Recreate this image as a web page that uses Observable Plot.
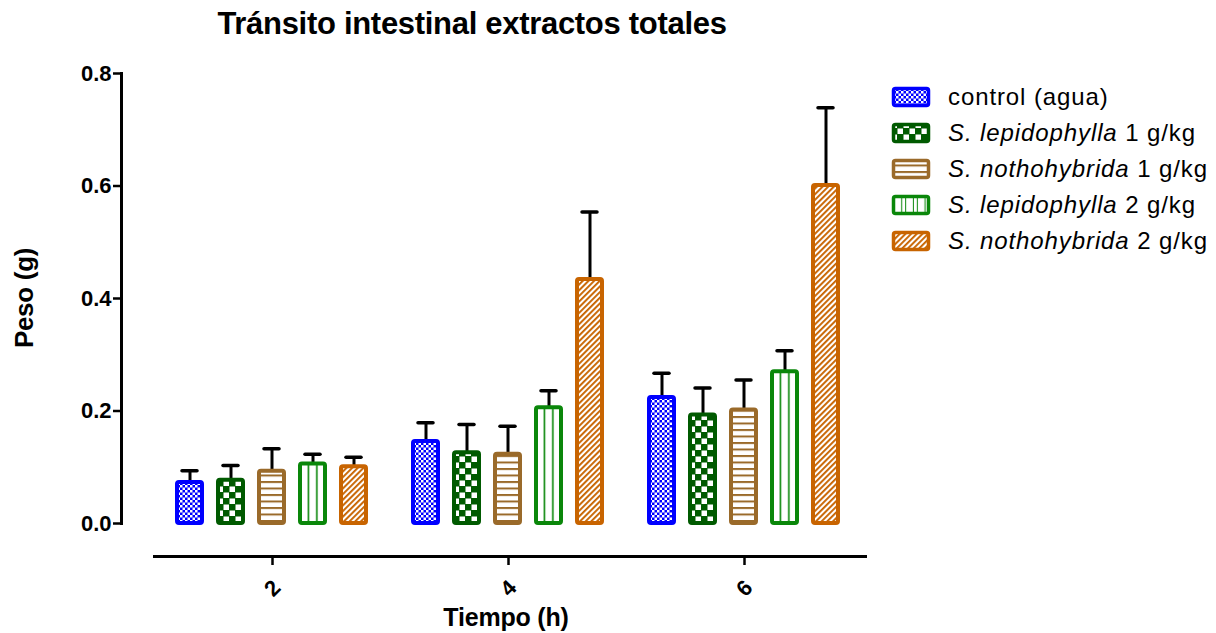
<!DOCTYPE html>
<html>
<head>
<meta charset="utf-8">
<script src="https://cdn.jsdelivr.net/npm/d3@7"></script>
<script src="https://cdn.jsdelivr.net/npm/@observablehq/plot@0.6"></script>
<style>
  body { margin: 0; background: #fff; font-family: "Liberation Sans", Arial, sans-serif; }
  #wrap { position: relative; width: 1216px; height: 633px; background: #fff; }
  #wrap > svg.chart { position: absolute; left: 0; top: 0; }
  .lbl { position: absolute; white-space: nowrap; font-weight: bold; color: #000; }
  #title { left: 472px; top: 8px; transform: translateX(-50%); font-size: 31px; line-height: 31px; letter-spacing: -0.3px; }
  #ylab { left: 24px; top: 298px; transform: translate(-50%, -50%) rotate(-90deg); font-size: 26px; line-height: 30px; letter-spacing: -0.3px; }
  #xlab { left: 506px; top: 617px; transform: translate(-50%, -50%); font-size: 25px; line-height: 30px; letter-spacing: -0.2px; }
  #legend { position: absolute; left: 891px; top: 79px; }
  .row { display: flex; align-items: center; height: 36px; }
  .row svg { display: block; margin-right: 17px; }
  .row span.t { font-size: 24px; line-height: 28px; color: #000; white-space: nowrap; letter-spacing: 0.9px; }
</style>
</head>
<body>
<div id="wrap">
  <svg width="0" height="0" style="position:absolute">
    <defs>
      <!-- fine blue checker -->
      <pattern id="pat0" patternUnits="userSpaceOnUse" width="5" height="5">
        <rect width="5" height="5" fill="#0000ff"/>
        <rect x="0" y="0" width="2.5" height="2.5" fill="#fff"/>
        <rect x="2.5" y="2.5" width="2.5" height="2.5" fill="#fff"/>
      </pattern>
      <!-- coarse dark green checker -->
      <pattern id="pat1" patternUnits="userSpaceOnUse" width="12" height="12">
        <rect width="12" height="12" fill="#005a00"/>
        <rect x="0.5" y="0.5" width="5.5" height="5.5" fill="#fff"/>
        <rect x="6.5" y="6.5" width="5.5" height="5.5" fill="#fff"/>
      </pattern>
      <!-- horizontal brown stripes -->
      <pattern id="pat2" patternUnits="userSpaceOnUse" width="10" height="6.5">
        <rect width="10" height="6.5" fill="#fff"/>
        <rect x="0" y="0" width="10" height="2" fill="#9a6a2a"/>
      </pattern>
      <!-- vertical green stripes, three columns per bar -->
      <pattern id="pat3" patternUnits="objectBoundingBox" x="0" y="0" width="0.33333" height="1">
        <rect width="40" height="1000" fill="#fff"/>
        <rect x="0" y="0" width="1" height="1000" fill="#0a870a"/>
        <rect x="7.7" y="0" width="1" height="1000" fill="#0a870a"/>
      </pattern>
      <!-- diagonal orange hatching -->
      <pattern id="pat4" patternUnits="userSpaceOnUse" width="4" height="4" patternTransform="rotate(45)">
        <rect width="4" height="4" fill="#fff"/>
        <rect x="0" y="0" width="1.9" height="4" fill="#c86400"/>
      </pattern>
    </defs>
  </svg>
  <div class="lbl" id="title">Tránsito intestinal extractos totales</div>
  <div class="lbl" id="ylab">Peso (g)</div>
  <div class="lbl" id="xlab">Tiempo (h)</div>
  <div id="legend"></div>
</div>
<script>
// Time points (hours) on the x axis
const tiempos = ["2", "4", "6"];

// Treatment groups, drawn in this order within each time point
const series = [
  "control (agua)",
  "S. lepidophylla 1 g/kg",
  "S. nothohybrida 1 g/kg",
  "S. lepidophylla 2 g/kg",
  "S. nothohybrida 2 g/kg"
];
const especie = ["", "S. lepidophylla", "S. nothohybrida", "S. lepidophylla", "S. nothohybrida"];
const dosis = ["control (agua)", "1 g/kg", "1 g/kg", "2 g/kg", "2 g/kg"];

const colores = ["#0000ff", "#005a00", "#9a6a2a", "#0a870a", "#c86400"];
const patrones = ["url(#pat0)", "url(#pat1)", "url(#pat2)", "url(#pat3)", "url(#pat4)"];

// Mean weight (g) at 2, 4 and 6 h
const mediaControl = [0.073, 0.146, 0.224];
const mediaLep1    = [0.077, 0.126, 0.193];
const mediaNoth1   = [0.093, 0.123, 0.202];
const mediaLep2    = [0.106, 0.206, 0.270];
const mediaNoth2   = [0.101, 0.434, 0.601];

// Upper error (g) at 2, 4 and 6 h
const errControl = [0.021, 0.033, 0.043];
const errLep1    = [0.026, 0.050, 0.048];
const errNoth1   = [0.040, 0.050, 0.053];
const errLep2    = [0.017, 0.030, 0.037];
const errNoth2   = [0.017, 0.120, 0.138];

const yTicks = [0, 0.2, 0.4, 0.6, 0.8];

const medias = [mediaControl, mediaLep1, mediaNoth1, mediaLep2, mediaNoth2];
const errores = [errControl, errLep1, errNoth1, errLep2, errNoth2];

const rows = [];
tiempos.forEach((t, ti) => {
  series.forEach((s, si) => {
    rows.push({tiempo: t, serie: s, media: medias[si][ti], err: errores[si][ti], si});
  });
});

const chart = Plot.plot({
  width: 905,
  height: 633,
  marginTop: 73,
  marginBottom: 110,
  marginLeft: 120,
  marginRight: 10,
  style: {fontFamily: "'Liberation Sans', Arial, sans-serif", background: "transparent", overflow: "visible"},
  fx: {domain: tiempos, paddingInner: 0.18, paddingOuter: 0.228, axis: null},
  x: {domain: series, paddingInner: 0.38, paddingOuter: 0, axis: null},
  y: {domain: [0, 0.8]},
  color: {type: "identity"},
  marks: [
    // y axis line and ticks, offset left of the first group
    Plot.frame({anchor: "left", facetAnchor: "left", dx: -54, strokeWidth: 3}),
    Plot.axisY({
      anchor: "left", facetAnchor: "left", dx: -54, ticks: yTicks,
      tickFormat: d3.format(".1f"), tickSize: 8, tickPadding: 2,
      strokeWidth: 2.5, fontSize: 22, fontWeight: "bold", label: null
    }),
    // detached x axis line below the bars
    Plot.ruleY([0], {dy: 33, insetLeft: -22, insetRight: -26, strokeWidth: 3}),
    Plot.axisFx({anchor: "bottom", dy: 33, tickSize: 9, strokeWidth: 2.5, tickFormat: () => "", label: null}),
    Plot.text(tiempos, {
      fx: d => d, text: d => d, frameAnchor: "bottom", lineAnchor: "middle",
      dy: 65, rotate: -45, fontSize: 22, fontWeight: "bold"
    }),
    // upper error bars
    Plot.ruleX(rows, {fx: "tiempo", x: "serie", y1: "media", y2: d => d.media + d.err, stroke: "#000", strokeWidth: 3}),
    Plot.tickY(rows, {fx: "tiempo", x: "serie", y: d => d.media + d.err, insetLeft: 5, insetRight: 5, stroke: "#000", strokeWidth: 3.5, strokeLinecap: "round"}),
    // bars
    Plot.barY(rows, {
      fx: "tiempo", x: "serie", y: "media",
      fill: d => patrones[d.si], stroke: d => colores[d.si],
      strokeWidth: 4, rx: 2
    })
  ]
});
chart.classList.add("chart");
document.getElementById("wrap").appendChild(chart);

// legend
const legend = document.getElementById("legend");
series.forEach((s, i) => {
  const row = document.createElement("div");
  row.className = "row";
  const ns = "http://www.w3.org/2000/svg";
  const sw = document.createElementNS(ns, "svg");
  sw.setAttribute("width", 40);
  sw.setAttribute("height", 22);
  const r = document.createElementNS(ns, "rect");
  r.setAttribute("x", 2.5); r.setAttribute("y", 2.5);
  r.setAttribute("width", 35); r.setAttribute("height", 17);
  r.setAttribute("rx", 2);
  r.setAttribute("fill", patrones[i]);
  r.setAttribute("stroke", colores[i]);
  r.setAttribute("stroke-width", 3.5);
  sw.appendChild(r);
  row.appendChild(sw);
  const t = document.createElement("span");
  t.className = "t";
  if (especie[i]) {
    const em = document.createElement("i");
    em.textContent = especie[i];
    t.appendChild(em);
    t.appendChild(document.createTextNode(" " + dosis[i]));
  } else {
    t.textContent = dosis[i];
  }
  row.appendChild(t);
  legend.appendChild(row);
});
</script>
</body>
</html>
